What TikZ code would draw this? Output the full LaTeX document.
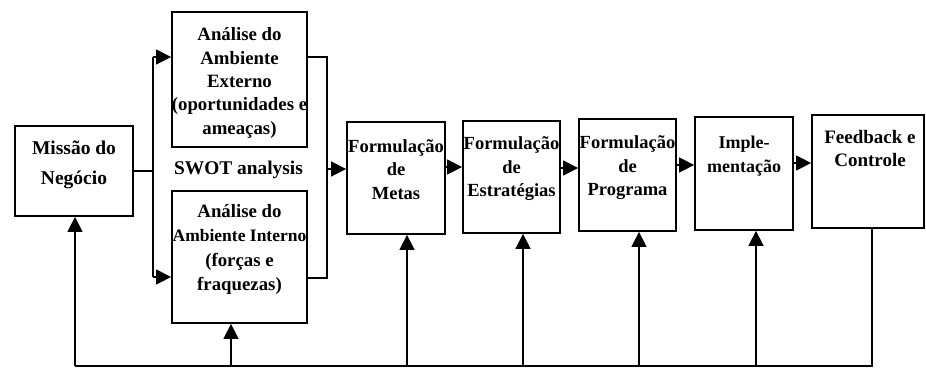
\documentclass[tikz,border=0pt]{standalone}
\usepackage{fontspec}
\setmainfont{Liberation Serif}
\usetikzlibrary{arrows.meta}
\begin{document}
\begin{tikzpicture}[x=1pt,y=-1pt,
  box/.style={draw, line width=1.8pt, inner sep=0pt},
  txt/.style={font=\bfseries\fontsize{18.5}{23.5}\selectfont, align=center, inner sep=0pt},
  ln/.style={line width=1.5pt},
  arr/.style={line width=1.5pt, -{Triangle[length=15pt,width=15pt]}}
]
\useasboundingbox (0,0) rectangle (926,369);
% boxes
\node[box, minimum width=118pt, minimum height=90pt] (mis) at (74,171) {};
\node[box, minimum width=135pt, minimum height=135pt] (ext) at (239.5,79.5) {};
\node[box, minimum width=135pt, minimum height=132pt] (int) at (239.5,257) {};
\node[box, minimum width=98pt, minimum height=112pt] (met) at (396,178) {};
\node[box, minimum width=97pt, minimum height=112pt] (est) at (511.5,177) {};
\node[box, minimum width=97pt, minimum height=112pt] (prg) at (627.5,175) {};
\node[box, minimum width=98pt, minimum height=113pt] (imp) at (744,173.5) {};
\node[box, minimum width=112pt, minimum height=113pt] (fb) at (868,171.5) {};
% texts
\node[txt, font=\bfseries\fontsize{19.5}{30}\selectfont] (tmis) at (74,165) {Missão do\\Negócio};
\node[txt, font=\bfseries\fontsize{18.8}{23.3}\selectfont] (text) at (239.5,83) {Análise do\\Ambiente\\Externo\\(oportunidades e\\ameaças)};
\node[txt, font=\bfseries\fontsize{19.4}{23.5}\selectfont] (swot) at (238.5,170) {SWOT analysis};
\node[txt, font=\bfseries\fontsize{18.8}{24.3}\selectfont] (tint) at (239.5,249.5) {Análise do\\{\fontsize{17.5}{24.3}\selectfont Ambiente Interno}\\(forças e\\fraquezas)};
\node[txt] (tmet) at (396,169.5) {Formulação\\de\\Metas};
\node[txt] (test) at (511.5,169) {Formulação\\de\\Estratégias};
\node[txt] (tprg) at (627.5,168) {Formulação\\de\\Programa};
\node[txt, font=\bfseries\fontsize{18}{24}\selectfont] (timp) at (744,156.5) {Imple-\\mentação};
\node[txt, font=\bfseries\fontsize{19}{23.5}\selectfont] (tfb) at (870,148.5) {Feedback e\\Controle};
% left fork
\coordinate (sp) at (153,171);
\coordinate (sa) at (153,57);
\coordinate (sb) at (153,277);
\draw[ln] (mis.east |- sp) -- (sp);
\draw[ln] (sa) -- (sb);
\draw[arr] (sa) -- (sa -| ext.west);
\draw[arr] (sb) -- (sb -| int.west);
% right join
\coordinate (ja) at (327,57);
\coordinate (jb) at (327,278);
\coordinate (jm) at (327,169);
\draw[ln] (ja -| ext.east) -- (ja) -- (jb) -- (jb -| int.east);
\draw[arr] (jm) -- (jm -| met.west);
% chain
\coordinate (c1) at (0,167);
\coordinate (c2) at (0,168);
\coordinate (c3) at (0,165);
\coordinate (c4) at (0,163);
\draw[arr] (c1 -| met.east) -- (c1 -| est.west);
\draw[arr] (c2 -| est.east) -- (c2 -| prg.west);
\draw[arr] (c3 -| prg.east) -- (c3 -| imp.west);
\draw[arr] (c4 -| imp.east) -- (c4 -| fb.west);
% feedback loop
\coordinate (bl) at (75,366);
\coordinate (br) at (872,366);
\draw[ln] (br |- fb.south) -- (br) -- (bl);
\draw[arr] (bl) -- (bl |- mis.south);
\coordinate (b1) at (231,366);
\coordinate (b2) at (407,366);
\coordinate (b3) at (523,366);
\coordinate (b4) at (639,366);
\coordinate (b5) at (756,366);
\draw[arr] (b1) -- (b1 |- int.south);
\draw[arr] (b2) -- (b2 |- met.south);
\draw[arr] (b3) -- (b3 |- est.south);
\draw[arr] (b4) -- (b4 |- prg.south);
\draw[arr] (b5) -- (b5 |- imp.south);
\end{tikzpicture}
\end{document}
